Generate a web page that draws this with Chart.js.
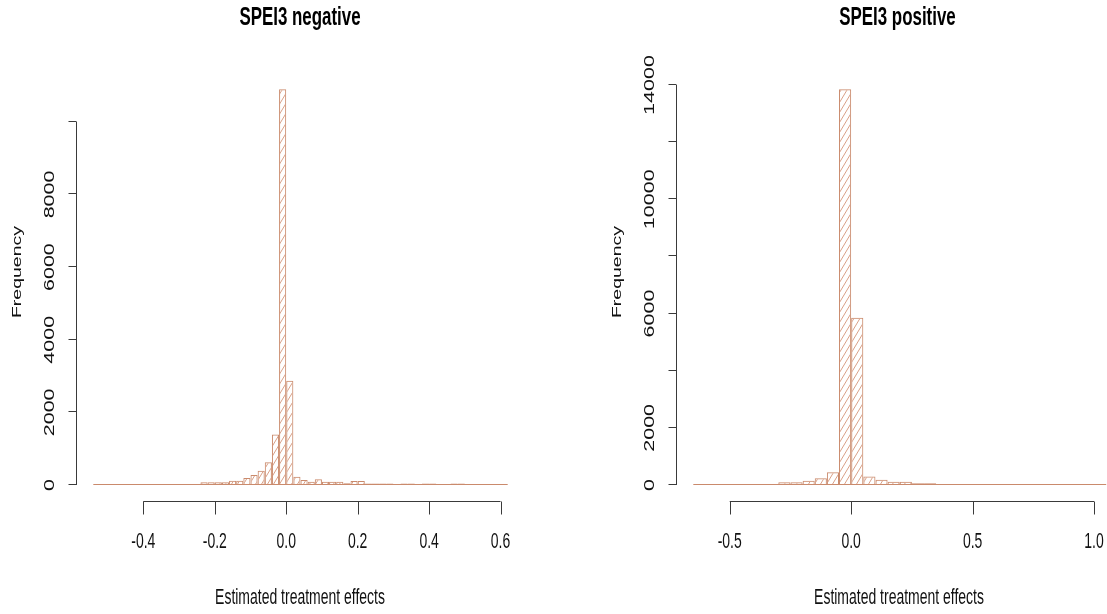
<!DOCTYPE html>
<html>
<head>
<meta charset="utf-8">
<title>SPEI3 treatment effect histograms</title>
<script src="https://cdn.jsdelivr.net/npm/chart.js@4/dist/chart.umd.min.js"></script>
<style>
	html, body { margin: 0; padding: 0; background: #fff; }
	#wrap { position: relative; width: 1107px; height: 614px; overflow: hidden; }
	.panel { position: absolute; top: 0; }
</style>
</head>
<body>
<div id="wrap">
	<canvas id="chart-neg" class="panel" width="553" height="614" style="left:0"></canvas>
	<canvas id="chart-pos" class="panel" width="554" height="614" style="left:553px"></canvas>
</div>
<script>
// SPEI3 negative: bins of 0.02 starting at -0.54
var negBinStart = -0.54;
var negBinWidth = 0.02;
var negCounts = [
	0, 0, 0, 30, 0, 30, 0,
	30, 30, 30, 30, 30, 30, 30, 30,
	73, 73, 73, 73,
	120, 120, 190, 275, 395, 623, 1393,
	10900, 2868,
	230, 137, 92, 156, 92, 92, 92,
	45, 110, 110,
	40, 40, 40, 40, 0, 40, 40, 0, 40, 40, 0, 0, 40, 40,
	0, 0, 0, 0, 0, 0
];
var negXTicks = [-0.4, -0.2, 0, 0.2, 0.4, 0.6];
var negXTickLabels = ['-0.4', '-0.2', '0.0', '0.2', '0.4', '0.6'];
var negYTicks = [0, 2000, 4000, 6000, 8000, 10000];
var negYTickLabels = ['0', '2000', '4000', '6000', '8000', ''];

// SPEI3 positive: bins of 0.05 starting at -0.65
var posBinStart = -0.65;
var posBinWidth = 0.05;
var posCounts = [
	0, 0, 0, 35, 35, 35, 35, 95, 95, 152, 233, 443,
	13850, 5850,
	297, 187, 117, 117, 58, 58,
	30, 30, 30, 30, 30,
	0, 0, 0, 0, 0, 0, 0, 30, 0
];
var posXTicks = [-0.5, 0, 0.5, 1.0];
var posXTickLabels = ['-0.5', '0.0', '0.5', '1.0'];
var posYTicks = [0, 2000, 4000, 6000, 8000, 10000, 12000, 14000];
var posYTickLabels = ['0', '2000', '', '6000', '', '10000', '', '14000'];

(function() {
	'use strict';

	var SQUEEZE = 0.65;              // the picture is narrowed horizontally
	var FONT = '"Liberation Sans", Arial, sans-serif';
	var BORDER = '#CA8A6C';
	var HATCH = '#D9A088';
	var AXIS = '#3a3a3a';

	/**
	 * Diagonal hatch like R's hist(density = ...).
	 */
	function makeHatch() {
		var c = document.createElement('canvas');
		c.width = 6;
		c.height = 10;
		var g = c.getContext('2d');
		g.strokeStyle = HATCH;
		g.lineWidth = 1;
		g.beginPath();
		g.moveTo(-6, 10); g.lineTo(0, 0);
		g.moveTo(0, 10); g.lineTo(6, 0);
		g.moveTo(6, 10); g.lineTo(12, 0);
		g.stroke();
		return g.createPattern(c, 'repeat');
	}

	function squeezedText(ctx, text, x, y, rotate) {
		ctx.save();
		ctx.translate(x, y);
		ctx.scale(SQUEEZE, 1);
		if (rotate) {
			ctx.rotate(-Math.PI / 2);
		}
		ctx.fillText(text, 0, 0);
		ctx.restore();
	}

	/**
	 * R style axes, drawn from the chart's own (hidden) scales.
	 */
	var rAxesPlugin = {
		id: 'rAxes',
		afterDatasetsDraw: function(chart, args, opts) {
			var ctx = chart.ctx;
			var xs = chart.scales.x;
			var ys = chart.scales.y;
			var i, px, py;

			ctx.save();

			// baseline under all bins (zero counts included)
			var y0 = Math.round(ys.getPixelForValue(0)) - 0.5;
			ctx.strokeStyle = BORDER;
			ctx.lineWidth = 1;
			ctx.beginPath();
			ctx.moveTo(xs.getPixelForValue(opts.binFrom), y0);
			ctx.lineTo(xs.getPixelForValue(opts.binTo), y0);
			ctx.stroke();

			ctx.strokeStyle = AXIS;
			ctx.fillStyle = '#111';

			// x axis
			var axY = opts.xAxisY + 0.5;
			ctx.beginPath();
			ctx.moveTo(xs.getPixelForValue(opts.xTicks[0]), axY);
			ctx.lineTo(xs.getPixelForValue(opts.xTicks[opts.xTicks.length - 1]), axY);
			for (i = 0; i < opts.xTicks.length; i++) {
				px = Math.round(xs.getPixelForValue(opts.xTicks[i])) + 0.5;
				ctx.moveTo(px, axY);
				ctx.lineTo(px, axY + 13);
			}
			ctx.stroke();

			ctx.font = '21.5px ' + FONT;
			ctx.textAlign = 'center';
			ctx.textBaseline = 'middle';
			for (i = 0; i < opts.xTicks.length; i++) {
				squeezedText(ctx, opts.xTickLabels[i], xs.getPixelForValue(opts.xTicks[i]), 542, false);
			}

			// y axis
			var axX = opts.yAxisX + 0.5;
			ctx.beginPath();
			ctx.moveTo(axX, ys.getPixelForValue(opts.yTicks[0]));
			ctx.lineTo(axX, ys.getPixelForValue(opts.yTicks[opts.yTicks.length - 1]));
			for (i = 0; i < opts.yTicks.length; i++) {
				py = Math.round(ys.getPixelForValue(opts.yTicks[i])) - 0.5;
				ctx.moveTo(axX, py);
				ctx.lineTo(axX - 8, py);
			}
			ctx.stroke();

			for (i = 0; i < opts.yTicks.length; i++) {
				if (opts.yTickLabels[i]) {
					squeezedText(ctx, opts.yTickLabels[i], opts.yLabelX, ys.getPixelForValue(opts.yTicks[i]), true);
				}
			}

			// axis titles and main title
			ctx.font = '19.5px ' + FONT;
			squeezedText(ctx, 'Frequency', opts.freqX, 272, true);

			ctx.font = '21.5px ' + FONT;
			squeezedText(ctx, 'Estimated treatment effects', opts.xTitleX, 598, false);

			ctx.font = 'bold 26px ' + FONT;
			ctx.fillStyle = '#000';
			squeezedText(ctx, opts.title, opts.titleX, 18, false);

			ctx.restore();
		}
	};

	var Histograms = {

		hatch: null,

		init: function() {
			this.hatch = makeHatch();

			this.render('chart-neg', negBinStart, negBinWidth, negCounts, {
				xMin: -0.54, xMax: 0.62, yMax: 11000,
				padding: { left: 93.3, right: 45.3, top: 85.5, bottom: 129 },
				axes: {
					binFrom: negBinStart,
					binTo: negBinStart + negBinWidth * negCounts.length,
					xTicks: negXTicks, xTickLabels: negXTickLabels,
					yTicks: negYTicks, yTickLabels: negYTickLabels,
					xAxisY: 501, yAxisX: 76, yLabelX: 50, freqX: 17.5,
					xTitleX: 300, titleX: 300,
					title: 'SPEI3 negative'
				}
			});

			this.render('chart-pos', posBinStart, posBinWidth, posCounts, {
				xMin: -0.65, xMax: 1.05, yMax: 14000,
				padding: { left: 140.3, right: 0.8, top: 85, bottom: 129 },
				axes: {
					binFrom: posBinStart,
					binTo: posBinStart + posBinWidth * posCounts.length,
					xTicks: posXTicks, xTickLabels: posXTickLabels,
					yTicks: posYTicks, yTickLabels: posYTickLabels,
					xAxisY: 501, yAxisX: 123, yLabelX: 97, freqX: 64.5,
					xTitleX: 346, titleX: 344.5,
					title: 'SPEI3 positive'
				}
			});
		},

		render: function(canvasId, binStart, binWidth, counts, cfg) {
			var points = counts.map(function(c, i) {
				return { x: binStart + (i + 0.5) * binWidth, y: c };
			});

			new Chart(document.getElementById(canvasId), {
				type: 'bar',
				data: {
					datasets: [{
						data: points,
						backgroundColor: this.hatch,
						borderColor: BORDER,
						borderWidth: 1,
						borderSkipped: false,
						inflateAmount: 0,
						barPercentage: 1,
						categoryPercentage: 1
					}]
				},
				options: {
					responsive: false,
					animation: false,
					events: [],
					layout: { padding: cfg.padding },
					plugins: {
						legend: { display: false },
						tooltip: { enabled: false },
						rAxes: cfg.axes
					},
					scales: {
						x: { type: 'linear', display: false, offset: false, min: cfg.xMin, max: cfg.xMax },
						y: { type: 'linear', display: false, min: 0, max: cfg.yMax }
					}
				},
				plugins: [rAxesPlugin]
			});
		}
	};

	Histograms.init();
})();
</script>
</body>
</html>
